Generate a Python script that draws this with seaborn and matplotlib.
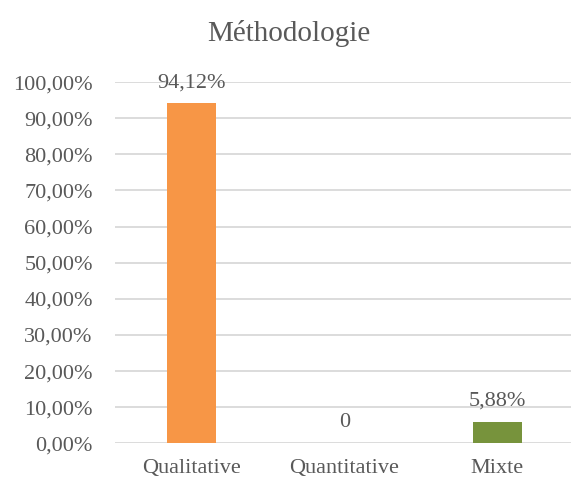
import pandas as pd
import seaborn as sns
import matplotlib.pyplot as plt
from matplotlib.ticker import FuncFormatter

# Data
categories = ['Qualitative', 'Quantitative', 'Mixte']
values = [94.12, 0.0, 5.88]
bar_colors = ['#F79646', '#4F81BD', '#77933C']
y_ticks = list(range(0, 101, 10))

df = pd.DataFrame({'methode': categories, 'pct': values})

sns.set_theme(style='white')
plt.rcParams['font.family'] = ['Liberation Serif', 'DejaVu Serif']
text_color = '#595959'

fig = plt.figure(figsize=(5.71, 4.79), dpi=100)
ax = fig.add_axes([0.2014, 0.0745, 0.8036, 0.754])

sns.barplot(data=df, x='methode', y='pct', hue='methode', palette=bar_colors,
            width=0.32, legend=False, ax=ax, saturation=1, linewidth=0)

ax.set_xlim(-0.5, 2.5)
ax.set_ylim(0, 100)
ax.set_yticks(y_ticks)
ax.yaxis.set_major_formatter(FuncFormatter(lambda v, _: f'{v:.2f}'.replace('.', ',') + '%'))
ax.grid(axis='y', color='#D9D9D9', linewidth=1.3)
ax.set_axisbelow(True)
for s in ax.spines.values():
    s.set_visible(False)

ax.tick_params(axis='y', length=0, pad=16, labelsize=16, labelcolor=text_color)
ax.tick_params(axis='x', length=0, pad=11, labelsize=16, labelcolor=text_color)
ax.set_xlabel('')
ax.set_ylabel('')

# Data labels
for i, v in enumerate(values):
    label = '0' if v == 0 else f'{v:.2f}'.replace('.', ',') + '%'
    ax.annotate(label, (i, v), xytext=(0, 15), textcoords='offset points',
                ha='center', va='center', fontsize=16, color=text_color)

fig.text(0.505, 0.93, 'Méthodologie', ha='center', va='center',
         fontsize=21, color=text_color)

fig.savefig('out.png', dpi=100)
